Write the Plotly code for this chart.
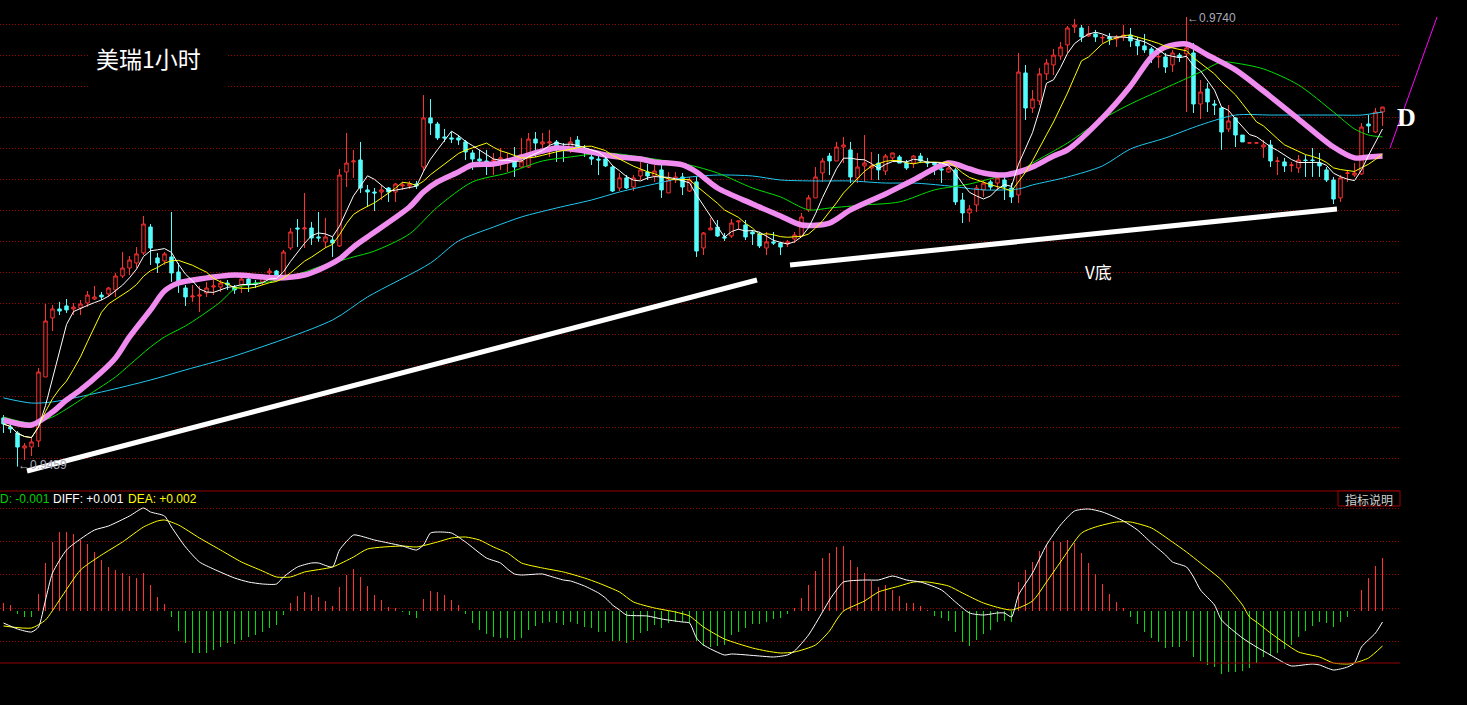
import plotly.graph_objects as go
import pandas as pd

PIP = 1e-4  # candle / MA values below are in pips (0.0001)

open_pips = [9489.4,9483.7,9480.0,9470.6,9471.2,9475.0,9515.0,9551.9,9557.5,9559.4,
9557.5,9558.1,9561.2,9563.7,9566.2,9566.9,9569.4,9578.1,9583.1,9586.2,
9592.5,9608.7,9589.4,9587.5,9590.0,9580.6,9570.6,9565.0,9565.6,9567.5,
9571.2,9571.2,9573.7,9571.2,9572.5,9576.2,9573.7,9574.4,9580.0,9581.2,
9577.5,9595.6,9608.1,9607.5,9608.1,9602.5,9599.4,9600.6,9596.9,9643.1,
9649.4,9650.6,9631.9,9630.6,9630.6,9633.1,9630.6,9634.4,9634.4,9635.6,
9646.2,9676.9,9673.1,9665.0,9664.4,9664.4,9661.9,9655.0,9651.2,9650.0,
9650.0,9651.2,9650.6,9649.4,9646.2,9646.2,9663.7,9660.6,9661.2,9661.9,
9658.7,9658.1,9663.1,9656.2,9652.5,9651.2,9651.2,9646.2,9633.1,9639.4,
9633.7,9640.6,9643.1,9640.6,9644.4,9630.0,9638.7,9640.0,9631.2,9636.9,
9595.6,9606.9,9608.7,9602.5,9603.1,9611.9,9610.0,9605.6,9604.4,9595.6,
9599.4,9598.7,9598.1,9601.2,9603.1,9619.4,9626.9,9642.5,9653.1,9650.0,
9658.7,9656.9,9639.4,9646.9,9645.6,9648.7,9643.7,9651.9,9652.5,9648.7,
9648.7,9653.1,9649.4,9648.7,9645.0,9643.1,9644.4,9625.6,9617.5,9622.5,
9631.9,9636.9,9636.2,9638.1,9633.1,9628.7,9705.0,9683.1,9687.5,9704.4,
9710.0,9715.6,9722.5,9733.7,9733.1,9728.1,9729.4,9726.9,9727.5,9726.2,
9727.5,9728.7,9725.0,9721.9,9720.0,9715.0,9715.0,9710.0,9716.2,9716.9,
9717.5,9685.6,9695.0,9685.6,9683.1,9670.0,9676.9,9666.2,9661.2,9661.2,
9658.7,9660.0,9649.7,9649.4,9647.2,9645.6,9650.6,9650.6,9648.7,9644.4,
9638.1,9626.9,9642.2,9641.2,9641.9,9673.1,9668.1,9680.6]

high_pips = [9491.2,9486.2,9481.2,9473.7,9476.9,9520.6,9560.6,9560.0,9561.9,9563.7,
9561.2,9563.1,9568.7,9571.9,9568.1,9571.2,9580.0,9593.1,9590.6,9596.2,
9615.6,9610.6,9592.5,9593.1,9618.1,9586.2,9572.5,9572.5,9571.9,9574.4,
9575.6,9575.6,9575.6,9572.5,9580.0,9577.5,9575.6,9579.4,9583.1,9581.9,
9594.4,9608.1,9613.7,9630.0,9611.9,9618.1,9614.4,9602.5,9645.0,9667.5,
9656.9,9661.9,9635.0,9633.1,9635.0,9633.7,9636.2,9636.9,9637.5,9637.5,
9691.2,9688.7,9674.4,9670.0,9668.1,9666.2,9663.1,9656.9,9656.9,9656.9,
9655.0,9658.1,9655.0,9658.7,9664.4,9667.5,9668.1,9667.5,9669.4,9663.1,
9661.2,9665.0,9665.6,9660.0,9655.6,9653.7,9652.5,9647.5,9642.5,9641.2,
9641.2,9649.4,9648.1,9647.5,9647.5,9643.1,9643.1,9642.5,9640.0,9640.0,
9605.6,9614.4,9613.1,9605.0,9613.7,9612.5,9613.1,9606.9,9605.6,9605.6,
9605.6,9599.4,9600.6,9605.6,9617.5,9628.7,9646.2,9651.9,9655.0,9661.9,
9665.0,9661.9,9655.0,9666.2,9655.6,9654.4,9654.4,9655.0,9653.7,9650.6,
9653.7,9655.0,9651.9,9649.4,9648.7,9648.7,9645.6,9630.0,9622.5,9635.0,
9638.1,9638.1,9642.5,9641.2,9636.2,9717.5,9710.0,9694.4,9708.1,9713.7,
9720.0,9724.4,9734.4,9738.7,9735.0,9734.4,9731.9,9728.7,9730.0,9728.7,
9735.0,9733.1,9727.5,9729.4,9721.2,9717.5,9717.5,9719.4,9717.5,9740.0,
9723.7,9700.6,9698.7,9688.1,9683.7,9685.0,9677.5,9666.2,9661.3,9661.3,
9663.1,9663.1,9652.5,9651.9,9649.4,9653.7,9653.7,9658.1,9655.0,9646.2,
9640.0,9641.2,9644.4,9648.7,9673.7,9678.7,9683.1,9683.7]

low_pips = [9480.0,9480.0,9459.0,9463.1,9465.6,9471.2,9515.0,9543.7,9553.7,9555.0,
9553.7,9553.7,9558.7,9563.1,9563.1,9565.0,9565.0,9576.9,9578.7,9583.1,
9591.2,9585.0,9580.0,9585.0,9574.4,9567.5,9559.4,9561.9,9555.6,9565.0,
9566.2,9568.1,9569.4,9566.9,9567.5,9568.1,9570.6,9572.5,9578.1,9576.9,
9576.9,9594.4,9596.2,9595.6,9597.5,9599.4,9595.6,9590.0,9596.2,9633.7,
9639.4,9630.0,9621.2,9618.7,9625.6,9624.4,9624.4,9631.9,9632.5,9632.5,
9643.1,9666.2,9663.1,9661.9,9661.2,9660.0,9650.6,9644.4,9647.5,9641.2,
9641.2,9644.4,9643.1,9640.0,9645.6,9645.6,9652.5,9655.6,9652.5,9649.4,
9649.4,9655.0,9655.6,9652.5,9647.5,9641.2,9646.2,9630.6,9631.2,9632.5,
9631.2,9638.1,9638.1,9636.9,9626.9,9630.0,9636.2,9628.7,9630.6,9590.0,
9591.2,9606.9,9602.5,9600.0,9601.9,9606.9,9600.6,9597.5,9595.6,9591.2,
9597.5,9591.2,9596.2,9598.7,9602.5,9618.1,9626.9,9636.9,9641.2,9650.0,
9648.7,9636.2,9636.2,9636.9,9638.1,9638.1,9641.2,9649.4,9648.7,9644.4,
9645.6,9648.7,9646.2,9641.2,9636.2,9642.5,9622.5,9611.2,9611.9,9618.1,
9627.5,9631.9,9631.9,9625.6,9623.7,9623.7,9675.6,9680.0,9685.0,9700.6,
9703.7,9713.1,9717.5,9730.0,9724.4,9727.5,9724.4,9723.7,9722.5,9721.2,
9725.0,9721.2,9716.2,9717.5,9711.2,9708.1,9705.0,9705.6,9711.9,9680.6,
9680.0,9676.2,9680.6,9678.7,9656.9,9668.1,9658.7,9661.9,9661.2,9661.2,
9651.9,9646.2,9641.2,9643.1,9643.1,9642.5,9640.0,9640.0,9640.0,9636.9,
9623.1,9624.4,9636.9,9640.0,9641.2,9667.5,9667.5,9671.9]

close_pips = [9485.6,9482.5,9471.2,9471.9,9474.4,9518.1,9550.0,9557.5,9556.2,9556.9,
9558.7,9560.6,9566.2,9565.0,9565.0,9570.6,9578.1,9583.1,9588.1,9591.9,
9610.6,9595.6,9586.2,9591.9,9580.0,9573.1,9565.0,9565.6,9566.2,9570.6,
9571.9,9573.7,9572.5,9569.4,9576.2,9572.5,9573.1,9578.1,9581.2,9578.1,
9593.1,9605.6,9607.5,9608.1,9601.9,9601.9,9602.5,9598.7,9641.2,9648.7,
9650.0,9633.1,9630.6,9630.0,9631.9,9630.6,9635.6,9635.0,9635.6,9634.4,
9676.9,9673.7,9664.4,9664.4,9663.7,9663.1,9655.6,9651.2,9650.0,9648.7,
9650.6,9651.9,9651.2,9646.2,9650.0,9663.7,9661.2,9661.9,9661.9,9658.7,
9658.1,9661.9,9658.1,9655.6,9651.2,9650.6,9646.9,9631.2,9639.4,9633.1,
9639.4,9644.4,9640.6,9643.7,9631.9,9638.1,9640.0,9633.7,9638.1,9593.7,
9605.0,9608.1,9603.1,9601.9,9611.2,9612.5,9602.5,9604.4,9596.9,9599.4,
9598.7,9596.2,9599.4,9603.7,9615.0,9626.9,9640.0,9650.0,9650.0,9658.7,
9660.0,9640.0,9646.2,9648.7,9646.9,9644.4,9653.1,9655.0,9648.7,9645.6,
9653.1,9650.0,9648.7,9647.5,9644.4,9645.6,9624.4,9617.5,9620.0,9633.1,
9636.2,9633.7,9639.4,9633.7,9627.5,9705.6,9683.1,9688.7,9704.4,9711.2,
9716.2,9721.2,9733.1,9735.0,9727.5,9729.4,9727.5,9727.2,9726.2,9727.5,
9728.7,9725.0,9721.9,9719.4,9716.2,9715.3,9708.7,9717.5,9715.0,9720.6,
9685.6,9693.1,9686.9,9685.0,9668.1,9675.0,9666.2,9661.9,9661.3,9661.3,
9660.0,9650.0,9650.0,9646.9,9647.5,9650.6,9650.3,9650.3,9646.9,9638.1,
9626.2,9639.4,9642.5,9642.5,9671.2,9671.9,9680.6,9683.7]

# moving-average lines (candle index, pips)
ma20_idx = [0,4,7,9,11,14,16,18,21,23,25,28,33,39,43,45,48,50,52,58,60,62,65,67,70,72,74,77,79,81,
            84,86,88,91,93,97,99,102,107,111,114,118,121,126,130,135,138,140,143,145,147,150,152,157,161,
            164,166,169,172,176,180,185,190,193,195,197]
ma20_pips = [9488.1,9485.0,9493.1,9500.6,9506.9,9518.1,9526.9,9540.0,9556.9,9568.7,9573.7,9576.2,9578.7,
             9576.9,9578.7,9581.9,9588.7,9596.2,9602.5,9621.2,9630.6,9636.9,9643.1,9647.5,9648.1,9650.0,
             9652.5,9656.2,9658.1,9657.5,9655.6,9653.7,9652.5,9651.2,9649.4,9647.5,9643.1,9633.1,9623.1,
             9615.6,9610.0,9611.2,9619.4,9629.4,9638.1,9648.7,9645.0,9642.5,9641.2,9643.1,9646.2,9653.1,
             9656.9,9676.9,9696.9,9715.0,9721.2,9723.1,9716.2,9706.9,9693.7,9676.2,9658.7,9651.9,9652.5,9653.1]
ma30_idx = [0,4,7,11,16,18,21,23,26,28,31,33,36,38,40,43,45,48,50,53,58,62,67,72,77,81,86,91,93,98,
            102,107,111,115,118,123,128,133,138,142,145,147,152,157,161,166,171,174,176,180,185,190,193,195,197]
ma30_pips = [9490.0,9486.2,9490.0,9500.6,9515.0,9522.5,9533.7,9540.0,9546.9,9552.5,9561.9,9570.0,9573.7,
             9574.4,9576.9,9580.6,9583.7,9587.5,9590.0,9593.7,9604.4,9621.2,9636.9,9642.5,9650.0,9652.5,
             9655.0,9652.5,9651.2,9647.5,9642.5,9633.1,9627.5,9619.4,9620.6,9622.5,9624.4,9631.9,9635.6,
             9640.0,9643.1,9648.7,9661.2,9676.2,9685.6,9695.6,9705.6,9711.9,9711.2,9707.5,9697.5,9680.6,
             9670.0,9666.2,9665.0]
ma60_idx = [0,4,7,14,21,26,33,47,52,61,65,70,74,79,84,88,93,97,102,107,111,116,121,126,130,135,140,145,
            147,152,157,161,166,171,176,181,186,190,194,197]
ma60_pips = [9501.9,9498.7,9499.4,9505.6,9513.1,9519.4,9528.1,9550.6,9565.0,9586.2,9600.0,9608.7,9615.0,
             9620.6,9625.6,9630.6,9635.6,9639.4,9641.2,9640.6,9638.1,9637.5,9637.5,9636.2,9636.2,9634.4,
             9631.9,9632.5,9635.0,9640.0,9646.9,9657.5,9664.4,9672.5,9678.7,9678.7,9678.7,9678.7,9678.7,9680.6]

# MACD (values in units of 1e-5)
macd_hist_e5 = [24,18,-9,-18,-18,51,144,207,237,237,231,213,201,177,153,132,123,114,105,99,
114,78,42,21,-18,-60,-96,-126,-126,-126,-117,-108,-96,-99,-87,-78,-72,-63,-51,-42,
-12,24,45,57,48,42,30,15,72,108,126,102,75,48,33,12,9,-3,-12,-21,
36,60,57,48,33,18,-9,-36,-57,-69,-78,-81,-81,-87,-81,-57,-45,-36,-33,-36,
-42,-33,-39,-48,-51,-63,-63,-90,-90,-96,-87,-66,-60,-42,-51,-36,-33,-33,-36,-90,
-105,-108,-105,-102,-72,-63,-51,-39,-39,-33,-24,-21,-9,9,39,78,120,159,174,192,
195,153,132,114,90,72,78,63,45,24,24,15,3,-15,-21,-30,-63,-93,-105,-87,
-69,-57,-33,-30,-33,87,123,147,180,198,210,207,213,204,174,144,111,81,51,27,
9,-18,-39,-63,-81,-93,-111,-108,-108,-90,-138,-150,-162,-168,-189,-183,-183,-180,-171,-156,
-138,-135,-126,-114,-102,-78,-60,-45,-33,-36,-48,-33,-18,3,63,99,135,159]
diff_idx = [0,2,4,5,6,7,9,11,13,15,18,20,21,23,24,26,28,30,33,35,37,39,40,42,44,45,47,48,50,51,
            53,55,57,59,60,61,62,64,66,69,71,72,73,74,77,78,80,81,83,85,86,87,88,89,92,94,97,98,99,100,
            103,104,108,110,112,113,115,117,118,119,120,123,125,127,129,131,134,136,138,140,142,143,144,145,
            147,149,151,153,155,157,160,162,164,166,167,169,170,171,173,174,177,179,181,183,184,187,188,190,
            192,193,194,196,197]
diff_e5 = [-36,-54,-63,-48,33,114,183,216,243,255,285,309,297,285,252,192,147,126,99,87,81,81,102,132,
           144,144,132,183,228,225,213,204,195,183,198,234,237,234,207,159,144,126,111,108,111,105,93,90,
           75,54,39,18,3,-12,-15,-24,-33,-36,-81,-102,-132,-129,-135,-138,-132,-120,-72,-3,33,63,87,93,93,
           105,93,87,63,27,-6,-12,-6,-6,-18,48,114,198,258,300,306,297,270,243,204,168,147,132,102,63,18,
           -27,-81,-108,-132,-156,-165,-159,-162,-177,-168,-156,-108,-66,-33]
dea_idx = [0,4,6,8,11,14,17,20,22,23,25,28,31,34,37,39,41,43,47,50,52,57,59,62,64,66,68,70,72,74,
           77,80,83,85,88,90,93,96,98,100,103,107,109,111,113,116,118,119,120,123,125,128,130,132,135,137,
           140,144,147,149,151,154,156,159,161,164,167,169,171,174,177,178,179,181,183,185,188,190,192,193,
           195,197]
dea_e5 = [-45,-51,-27,33,123,168,207,252,270,273,258,219,183,147,120,102,102,117,132,162,186,195,192,
          207,219,222,213,192,174,144,129,117,99,84,57,27,9,-3,-15,-48,-84,-111,-120,-126,-123,-102,-60,
          -27,0,30,57,75,87,87,75,54,24,3,30,87,147,234,252,267,267,249,207,177,144,93,18,-18,-33,-66,
          -96,-123,-138,-156,-159,-156,-141,-105]

# ---------------------------------------------------------------------------
RED = "#FF3232"
CYAN = "#54FCFC"
GREEN = "#00E000"
GRID = "#9A0000"
W, H = 1467, 705
XD = 1400 / W

N = len(close_pips)
x = list(range(N))
o = [v * PIP for v in open_pips]
h = [v * PIP for v in high_pips]
l = [v * PIP for v in low_pips]
c = [v * PIP for v in close_pips]
cs = pd.Series(c)
ma5 = cs.rolling(5, min_periods=1).mean()
ma10 = cs.rolling(10, min_periods=1).mean()

fig = go.Figure()
fig.add_trace(go.Candlestick(
    x=x, open=o, high=h, low=l, close=c,
    increasing=dict(line=dict(color=RED, width=1), fillcolor="#000000"),
    decreasing=dict(line=dict(color=CYAN, width=1), fillcolor=CYAN),
    whiskerwidth=0, hoverinfo="skip", xaxis="x", yaxis="y"))

def line(xs, ys, color, width, shape="linear"):
    fig.add_trace(go.Scatter(x=xs, y=ys, mode="lines",
                             line=dict(color=color, width=width, shape=shape, smoothing=0.8),
                             hoverinfo="skip", xaxis="x", yaxis="y"))

line(ma60_idx, [v * PIP for v in ma60_pips], "#22C8F0", 1, "spline")
line(ma30_idx, [v * PIP for v in ma30_pips], GREEN, 1, "spline")
line(ma20_idx, [v * PIP for v in ma20_pips], "#F08CF0", 5.5, "spline")
line(x, ma10, "#FFFF00", 1)
line(x, ma5, "#FFFFFF", 1)

# MACD histogram as 1px sticks
hist = [v * 1e-5 for v in macd_hist_e5]
for sign, col in ((1, RED), (-1, GREEN)):
    hx, hy = [], []
    for i, v in enumerate(hist):
        if v * sign > 0:
            hx += [i, i, None]
            hy += [0, v, None]
    fig.add_trace(go.Scatter(x=hx, y=hy, mode="lines", line=dict(color=col, width=1),
                             hoverinfo="skip", xaxis="x2", yaxis="y2"))
fig.add_trace(go.Scatter(x=dea_idx, y=[v * 1e-5 for v in dea_e5], mode="lines",
                         line=dict(color="#FFFF00", width=1, shape="spline", smoothing=0.6),
                         hoverinfo="skip", xaxis="x2", yaxis="y2"))
fig.add_trace(go.Scatter(x=diff_idx, y=[v * 1e-5 for v in diff_e5], mode="lines",
                         line=dict(color="#FFFFFF", width=1, shape="spline", smoothing=0.6),
                         hoverinfo="skip", xaxis="x2", yaxis="y2"))

def py(px):
    return 1 - px / H

def pxx(px):
    return px / W

yaxis_common = dict(showticklabels=False, ticks="", zeroline=False, showline=False,
                    showgrid=True, gridcolor=GRID, gridwidth=1, griddash="1px,2px", fixedrange=True)

fig.update_layout(
    width=W, height=H, margin=dict(l=0, r=0, t=0, b=0),
    paper_bgcolor="#000000", plot_bgcolor="#000000", showlegend=False,
    xaxis=dict(domain=[0, XD], range=[-0.5, 199.5], visible=False, rangeslider=dict(visible=False)),
    xaxis2=dict(domain=[0, XD], range=[-0.5, 199.5], visible=False, anchor="y2", matches="x"),
    yaxis=dict(domain=[py(490), 1], range=[0.944435, 0.97506], tick0=0.97350, dtick=0.0019375,
               **yaxis_common),
    yaxis2=dict(domain=[py(690), py(491)], range=[-0.00237, 0.0036], tickmode="array",
                tickvals=[0.00309, 0.0021, 0.00111, 0.00009, -0.0009], anchor="x2", **yaxis_common),
)

shapes = [
    # panel borders
    dict(type="line", xref="paper", yref="paper", x0=0, x1=XD, y0=py(491), y1=py(491),
         line=dict(color="#900000", width=1)),
    dict(type="line", xref="paper", yref="paper", x0=0, x1=XD, y0=py(663), y1=py(663),
         line=dict(color="#900000", width=1)),
    # indicator-help box
    dict(type="rect", xref="paper", yref="paper", x0=pxx(1338), x1=XD, y0=py(506), y1=py(491),
         line=dict(color="#A00000", width=1), fillcolor="#000000"),
    # title background
    dict(type="rect", xref="paper", yref="paper", x0=pxx(90), x1=pxx(226), y0=py(100), y1=py(32),
         line=dict(width=0), fillcolor="#000000", layer="above"),
    # hand-drawn trend lines
    dict(type="line", xref="x", yref="y", x0=3.36, y0=0.94562, x1=107.64, y1=0.95756,
         line=dict(color="#FFFFFF", width=5)),
    dict(type="line", xref="x", yref="y", x0=112.36, y0=0.95850, x1=190.5, y1=0.96200,
         line=dict(color="#FFFFFF", width=5)),
    dict(type="line", xref="paper", yref="paper", x0=pxx(1390), y0=py(148), x1=pxx(1437), y1=py(17),
         line=dict(color="#FF00FF", width=1)),
]
fig.update_layout(shapes=shapes)

ann = [
    dict(text="美瑞1小时", x=pxx(148), y=py(58), font=dict(size=23, color="#FFFFFF",
         family="Noto Sans CJK SC"), xanchor="center", yanchor="middle"),
    dict(text="V底", x=pxx(1098), y=py(271), font=dict(size=17, color="#FFFFFF",
         family="Noto Sans CJK SC"), xanchor="center", yanchor="middle"),
    dict(text="<b>D</b>", x=pxx(1406), y=py(117), font=dict(size=26, color="#FFFFFF",
         family="Liberation Serif"), xanchor="center", yanchor="middle"),
    dict(text="←0.9740", x=pxx(1185), y=py(18), font=dict(size=12, color="#A8A8B8",
         family="Liberation Sans"), xanchor="left", yanchor="middle"),
    dict(text="←0.9459", x=pxx(16), y=py(465), font=dict(size=12, color="#A8A8B8",
         family="Liberation Sans"), xanchor="left", yanchor="middle"),
    dict(text="D: -0.001", x=pxx(-2), y=py(499), font=dict(size=12, color="#00D000",
         family="Liberation Sans"), xanchor="left", yanchor="middle"),
    dict(text="DIFF: +0.001", x=pxx(51), y=py(499), font=dict(size=12, color="#FFFFFF",
         family="Liberation Sans"), xanchor="left", yanchor="middle"),
    dict(text="DEA: +0.002", x=pxx(126), y=py(499), font=dict(size=12, color="#FFFF00",
         family="Liberation Sans"), xanchor="left", yanchor="middle"),
    dict(text="指标说明", x=pxx(1369), y=py(499), font=dict(size=12, color="#D0D0D0",
         family="Noto Sans CJK SC"), xanchor="center", yanchor="middle"),
]
for a in ann:
    a.update(xref="paper", yref="paper", showarrow=False)
fig.update_layout(annotations=ann)

fig.write_html("out.html", config={"displayModeBar": False},
               post_script="document.body.style.margin='0';document.body.style.overflow='hidden';")
